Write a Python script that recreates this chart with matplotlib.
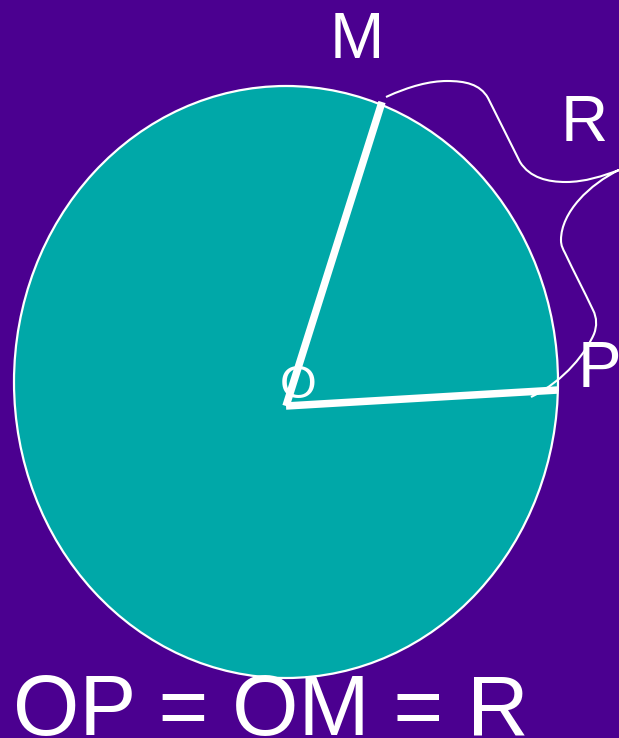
import matplotlib
matplotlib.use('Agg')
import matplotlib.pyplot as plt
from matplotlib.patches import Ellipse, PathPatch
from matplotlib.path import Path

W, H = 619, 738
BG = '#4B0090'
TEAL = '#00A8A8'

# everything in reference pixel coordinates
center = (286, 382)
circle_w = 544
circle_h = 592
radius_m = [(286, 406), (382, 102)]
radius_p = [(286, 406), (558, 390)]

# brace-like squiggle, cubic segments: control, control, end
curve_start = (386, 97)
curve_segments = [
    ((410, 86), (430, 81), (447, 81)),
    ((465, 81), (480, 84), (488, 98)),
    ((497, 116), (510, 142), (520, 162)),
    ((530, 178), (548, 182), (566, 182)),
    ((585, 182), (603, 176), (619, 170)),
    ((590, 184), (561, 212), (561, 240)),
    ((561, 246), (563, 249), (565, 253)),
    ((574, 272), (584, 291), (593, 310)),
    ((597, 318), (597, 326), (594, 334)),
    ((586, 352), (566, 380), (531, 397)),
]

labels = [
    ('M', 330, 58, 47),
    ('R', 561, 141, 47),
    ('P', 578, 387, 47),
]
formula = 'OP = OM = R'


def curve_path():
    verts = [curve_start]
    codes = [Path.MOVETO]
    for seg in curve_segments:
        verts.extend(seg)
        codes.extend([Path.CURVE4] * 3)
    return Path(verts, codes)


plt.rcParams['font.family'] = ['Liberation Sans', 'DejaVu Sans']

fig = plt.figure(figsize=(W / 100, H / 100), dpi=100, facecolor=BG)
ax = fig.add_axes([0, 0, 1, 1])
ax.set_xlim(0, W)
ax.set_ylim(H, 0)
ax.axis('off')

ax.add_patch(Ellipse(center, circle_w, circle_h, facecolor=TEAL, edgecolor='white', linewidth=1.6))
ax.add_patch(PathPatch(curve_path(), facecolor='none', edgecolor='white', linewidth=1.5))

for seg in (radius_m, radius_p):
    xs, ys = zip(*seg)
    ax.plot(xs, ys, color='white', linewidth=5.4, solid_capstyle='butt')

for txt, x, y, size in labels:
    ax.text(x, y, txt, color='white', fontsize=size, ha='left', va='baseline')
ax.text(298, 398, 'O', color='white', fontsize=34, ha='center', va='baseline')
ax.text(13, 735, formula, color='white', fontsize=61.5, ha='left', va='baseline')

fig.savefig('out.png', dpi=100, facecolor=BG)
